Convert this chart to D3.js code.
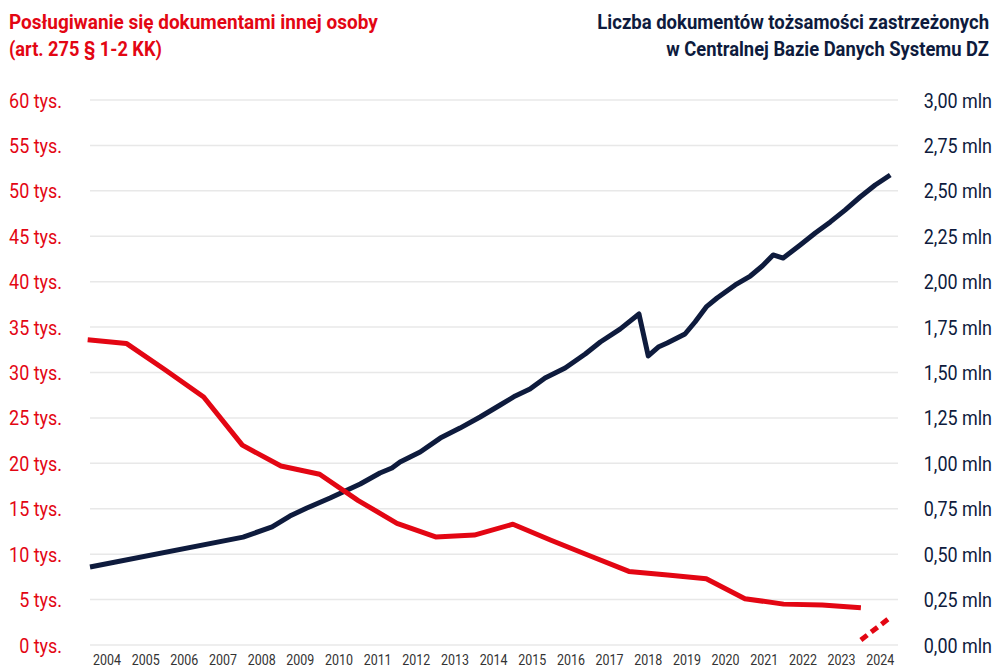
<!DOCTYPE html>
<html>
<head>
<meta charset="utf-8">
<script src="https://cdn.jsdelivr.net/npm/d3@7"></script>
<style>
  body { margin: 0; background: #fff; }
  text { font-family: "Roboto", "Liberation Sans", sans-serif; }
</style>
</head>
<body>
<svg id="svg"></svg>
<script>
const WIDTH = 996, HEIGHT = 668;
const RED = '#e30613', NAVY = '#0e1b3d';

// lewa oś: liczba przestępstw (tys.)
const redYears = [2003, 2004, 2005, 2006, 2007, 2008, 2009, 2010, 2011, 2012, 2013,
                  2014, 2015, 2016, 2017, 2018, 2019, 2020, 2021, 2022, 2023];
const redValues = [33.6, 33.2, 30.3, 27.3, 22.0, 19.7, 18.8, 15.9, 13.4, 11.9, 12.1,
                   13.3, 11.5, 9.8, 8.1, 7.7, 7.3, 5.1, 4.5, 4.4, 4.1];
// częściowe dane (linia przerywana)
const redDashT = [2023.5, 2024.25];
const redDashV = [0.55, 3.0];

// prawa oś: dokumenty zastrzeżone (mln)
const navyT = [2003.56, 2007.52, 2008.27, 2008.73, 2009.17, 2009.77, 2010.55, 2011.06, 2011.37, 2011.58,
               2012.10, 2012.62, 2013.13, 2013.65, 2014.17, 2014.56, 2014.94, 2015.33, 2015.85, 2016.37,
               2016.76, 2017.27, 2017.76, 2018.00, 2018.26, 2018.49, 2018.95, 2019.21, 2019.50, 2019.78,
               2020.25, 2020.64, 2020.95, 2021.23, 2021.49, 2021.93, 2022.32, 2022.71, 2023.09, 2023.48,
               2023.87, 2024.26];
const navyV = [0.429, 0.594, 0.650, 0.710, 0.754, 0.809, 0.886, 0.947, 0.974, 1.007,
               1.062, 1.139, 1.194, 1.255, 1.321, 1.371, 1.409, 1.470, 1.525, 1.602,
               1.668, 1.739, 1.822, 1.591, 1.640, 1.662, 1.712, 1.778, 1.861, 1.910,
               1.982, 2.031, 2.086, 2.147, 2.130, 2.202, 2.268, 2.329, 2.394, 2.466,
               2.532, 2.587];

const xTicks = d3.range(2004, 2025);
const leftTicks = d3.range(0, 61, 5);
const rightTicks = [0, 0.25, 0.5, 0.75, 1, 1.25, 1.5, 1.75, 2, 2.25, 2.5, 2.75, 3];

const svg = d3.select('#svg').attr('width', WIDTH).attr('height', HEIGHT);

const x = d3.scaleLinear().domain([2003.56, 2024.46]).range([90, 898]);
const yL = d3.scaleLinear().domain([0, 60]).range([645, 100]);
const yR = d3.scaleLinear().domain([0, 3]).range([645, 100]);

// brak fontu condensed - ściskamy tekst w poziomie
function condense(sel, k) {
    sel.each(function(d) {
        const t = d3.select(this);
        const tx = +t.attr('x'), ty = +t.attr('y');
        const kk = typeof k == 'function' ? k.call(this, d) : k;
        t.attr('x', 0).attr('y', 0)
         .attr('transform', 'translate(' + tx + ',' + ty + ') scale(' + kk + ',1)');
    });
}
function widthOf(sel) {
    return sel.node().getComputedTextLength();
}

// siatka
svg.append('g').selectAll('line').data(leftTicks).join('line')
    .attr('x1', 90).attr('x2', 898)
    .attr('y1', d => yL(d)).attr('y2', d => yL(d))
    .attr('stroke', '#e8e8e8').attr('stroke-width', 1.5);

// osie
const fmtR = d3.format('.2f');
const lt = svg.append('g').selectAll('text').data(leftTicks).join('text')
    .attr('x', 62).attr('y', d => yL(d)).attr('dy', '0.36em')
    .attr('text-anchor', 'end').attr('fill', RED).attr('font-size', 21)
    .text(d => d + ' tys.');
const k = 53 / widthOf(lt.filter(d => d == 60));
condense(lt, k);

const rt = svg.append('g').selectAll('text').data(rightTicks).join('text')
    .attr('x', 992).attr('y', d => yR(d)).attr('dy', '0.36em')
    .attr('text-anchor', 'end').attr('fill', NAVY).attr('font-size', 21)
    .text(d => fmtR(d).replace('.', ',') + ' mln');
condense(rt, k);

const xt = svg.append('g').selectAll('text').data(xTicks).join('text')
    .attr('x', d => x(d)).attr('y', 665)
    .attr('text-anchor', 'middle').attr('fill', '#333').attr('font-size', 14)
    .text(d => d);
condense(xt, 28 / widthOf(xt.filter(d => d == 2004)));

// linie
const lineL = d3.line().x(d => x(d[0])).y(d => yL(d[1]));
const lineR = d3.line().x(d => x(d[0])).y(d => yR(d[1]));

svg.append('path')
    .datum(navyT.map((t, i) => [t, navyV[i]]))
    .attr('d', lineR).attr('fill', 'none')
    .attr('stroke', NAVY).attr('stroke-width', 5).attr('stroke-linejoin', 'round');

svg.append('path')
    .datum(redYears.map((t, i) => [t + 0.5, redValues[i]]))
    .attr('d', lineL).attr('fill', 'none')
    .attr('stroke', RED).attr('stroke-width', 5).attr('stroke-linejoin', 'round');

svg.append('path')
    .datum(redDashT.map((t, i) => [t, redDashV[i]]))
    .attr('d', lineL).attr('fill', 'none')
    .attr('stroke', RED).attr('stroke-width', 5).attr('stroke-dasharray', '8,5');

// tytuły
const titles = [
    {t: 'Posługiwanie się dokumentami innej osoby', x: 9, y: 29, w: 369, c: RED, a: 'start'},
    {t: '(art. 275 § 1-2 KK)', x: 9, y: 56, w: 153, c: RED, a: 'start'},
    {t: 'Liczba dokumentów tożsamości zastrzeżonych', x: 989, y: 29, w: 392, c: NAVY, a: 'end'},
    {t: 'w Centralnej Bazie Danych Systemu DZ', x: 989, y: 56, w: 323, c: NAVY, a: 'end'}
];
const tt = svg.append('g').selectAll('text').data(titles).join('text')
    .attr('x', d => d.x).attr('y', d => d.y)
    .attr('text-anchor', d => d.a).attr('fill', d => d.c)
    .attr('font-size', 21).attr('font-weight', 'bold')
    .text(d => d.t);
condense(tt, function(d) { return d.w / this.getComputedTextLength(); });
</script>
</body>
</html>
